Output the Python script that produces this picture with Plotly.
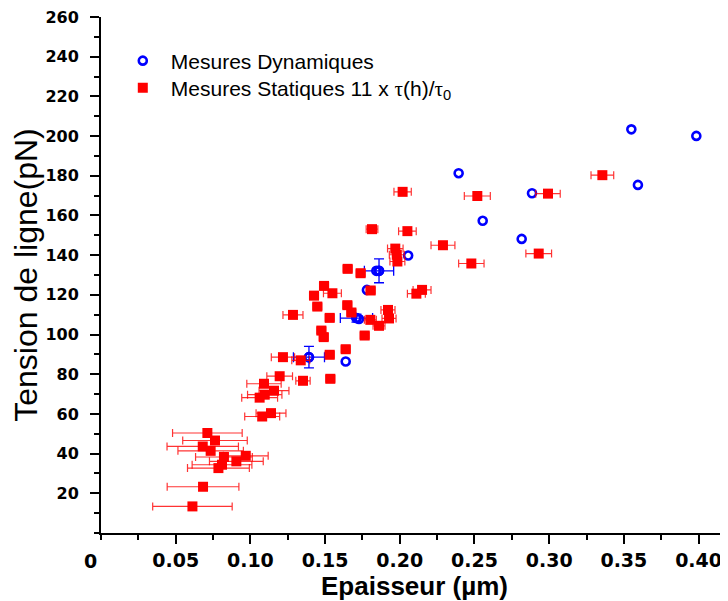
import plotly.graph_objects as go

# Mesures Dynamiques (open blue circles)
dyn_x = [0.355, 0.3985, 0.3594, 0.2394, 0.2885, 0.2555, 0.2816, 0.2056,
         0.1843, 0.1861, 0.178, 0.171, 0.1727, 0.1392, 0.1638]
dyn_y = [203.4, 200.1, 175.4, 181.3, 171.2, 157.3, 148.2, 139.8,
         132.1, 132.1, 122.5, 108.3, 107.8, 88.6, 86.4]
dyn_ex = [None, None, None, None, None, None, None, None,
          None, 0.0098, None, 0.0108, None, 0.0104, None]
dyn_ey = [None, None, None, None, None, None, None, None,
          None, 6.0, None, 2.0, None, 5.4, None]

# Mesures Statiques 11 x tau(h)/tau0 (red squares)
stat_x = [0.3356, 0.2992, 0.2519, 0.2019, 0.1814, 0.2051, 0.2289, 0.2930,
          0.1970, 0.1980, 0.1984, 0.2479, 0.1651, 0.1738, 0.1493, 0.1426,
          0.1549, 0.1448, 0.1285, 0.1531, 0.1649, 0.1676, 0.1805, 0.2111,
          0.2149, 0.1921, 0.1928, 0.1803, 0.1861, 0.1475, 0.1491, 0.1765,
          0.1638, 0.1531, 0.1218, 0.1337, 0.1535, 0.1352, 0.1196, 0.1091,
          0.1158, 0.1096, 0.1062, 0.1138, 0.1079, 0.0712, 0.0763, 0.0681,
          0.0734, 0.0823, 0.0969, 0.0906, 0.0810, 0.0786, 0.0683, 0.0612]
stat_y = [180.3, 171.0, 169.8, 171.9, 153.1, 152.1, 145.0, 140.8,
          143.3, 140.2, 136.8, 135.8, 133.1, 130.9, 124.5, 119.6,
          120.8, 114.1, 109.9, 108.4, 114.8, 111.1, 122.2, 120.6,
          122.5, 112.4, 108.1, 107.4, 104.4, 102.0, 98.7, 99.5,
          92.6, 89.8, 88.6, 87.0, 77.7, 76.7, 79.0, 75.2,
          71.7, 69.7, 68.2, 60.4, 58.7, 50.4, 46.6, 43.6,
          41.4, 38.3, 38.9, 36.1, 34.4, 32.7, 23.3, 13.4]
stat_ex = [0.0076, 0.0082, 0.0087, 0.0058, 0.0039, 0.0059, 0.0080, 0.0086,
           0.0052, 0.0050, 0.0050, 0.0085, 0.0030, 0.0030, 0.0030, 0.0030,
           0.0060, 0.0030, 0.0067, 0.0030, 0.0030, 0.0030, 0.0030, 0.0060,
           0.0060, 0.0047, 0.0047, 0.0040, 0.0040, 0.0030, 0.0030, 0.0030,
           0.0030, 0.0030, 0.0078, 0.0060, 0.0030, 0.0048, 0.0086, 0.0115,
           0.0100, 0.0115, 0.0120, 0.0100, 0.0117, 0.0233, 0.0216, 0.0239,
           0.0219, 0.0190, 0.0150, 0.0180, 0.0200, 0.0207, 0.0240, 0.0266]

x_ticks = [0.05, 0.10, 0.15, 0.20, 0.25, 0.30, 0.35, 0.40]
x_ticktext = ["0.05", "0.10", "0.15", "0.20", "0.25", "0.30", "0.35", "0.40"]
y_ticks = [20, 40, 60, 80, 100, 120, 140, 160, 180, 200, 220, 240, 260]

BLUE = "#0000ff"
RED = "#ff0000"

# points that carry error bars are drawn in their own trace
err_idx = [i for i in range(len(dyn_x)) if dyn_ex[i] is not None]

fig = go.Figure()

fig.add_trace(go.Scatter(
    x=dyn_x, y=dyn_y, mode="markers", name="Mesures Dynamiques",
    marker=dict(symbol="circle-open", size=8, color=BLUE,
                line=dict(width=2.6, color=BLUE)),
    legend="legend",
))

fig.add_trace(go.Scatter(
    x=[dyn_x[i] for i in err_idx], y=[dyn_y[i] for i in err_idx],
    mode="markers", showlegend=False,
    marker=dict(symbol="circle-open", size=8, color=BLUE,
                line=dict(width=2.6, color=BLUE)),
    error_x=dict(type="data", array=[dyn_ex[i] for i in err_idx],
                 color=BLUE, thickness=1.3, width=5),
    error_y=dict(type="data", array=[dyn_ey[i] for i in err_idx],
                 color=BLUE, thickness=1.3, width=5),
))

fig.add_trace(go.Scatter(
    x=stat_x, y=stat_y, mode="markers",
    name="Mesures Statiques 11 x <span style=\"font-family:'Liberation Serif'\">τ</span>(h)/"
         "<span style=\"font-family:'Liberation Serif'\">τ</span><sub>0</sub>",
    marker=dict(symbol="square", size=10, color=RED, line=dict(width=0)),
    error_x=dict(type="data", array=stat_ex, color="rgba(255,0,0,0.8)",
                 thickness=1.2, width=4),
    legend="legend2",
))

legend_style = dict(
    x=0.022, xanchor="left", yanchor="middle",
    bgcolor="rgba(0,0,0,0)",
    font=dict(family="Liberation Sans, Arial", size=21, color="black"),
    itemwidth=46,
)

# the page body has an 8px margin, so the figure is 8px smaller than the window
fig.update_layout(
    width=720,
    height=593,
    margin=dict(l=93, r=0, t=9, b=68),
    plot_bgcolor="white",
    paper_bgcolor="white",
    font=dict(family="Liberation Sans, Arial", color="black"),
    legend=dict(y=0.9147, **legend_style),
    legend2=dict(y=0.8624, **legend_style),
    xaxis=dict(
        range=[0, 0.4197],
        automargin=False,
        tickmode="array", tickvals=x_ticks, ticktext=x_ticktext,
        ticks="outside", ticklen=9, tickwidth=2, tickcolor="black",
        tickfont=dict(family="DejaVu Sans", size=19, color="black", weight="bold"),
        ticklabelstandoff=0,
        ticklabeloverflow="allow",
        minor=dict(dtick=0.025, tick0=0, ticks="outside", ticklen=5,
                   tickwidth=2, tickcolor="black"),
        showline=True, linewidth=2, linecolor="black",
        showgrid=False, zeroline=False,
        title=dict(text="<b>Epaisseur (µm)</b>", standoff=4,
                   font=dict(family="Liberation Sans, Arial", size=26, color="black")),
    ),
    yaxis=dict(
        range=[0, 260],
        automargin=False,
        tickmode="array", tickvals=y_ticks,
        ticks="outside", ticklen=9, tickwidth=2, tickcolor="black",
        tickfont=dict(family="DejaVu Sans", size=16, color="black", weight="bold"),
        ticklabelstandoff=8,
        ticklabeloverflow="allow",
        minor=dict(dtick=10, tick0=0, ticks="outside", ticklen=5,
                   tickwidth=2, tickcolor="black"),
        showline=True, linewidth=2, linecolor="black",
        showgrid=False, zeroline=False,
        title=dict(text="Tension de ligne(pN)", standoff=5,
                   font=dict(family="Liberation Sans, Arial", size=32, color="black")),
    ),
    showlegend=True,
)

# lone "0" label under the origin, shifted left as in the original
fig.add_annotation(
    x=-0.016, y=-0.054, xref="paper", yref="paper",
    text="0", showarrow=False, xanchor="center", yanchor="middle",
    font=dict(family="DejaVu Sans", size=19, color="black", weight="bold"),
)

fig.write_html("out.html")
